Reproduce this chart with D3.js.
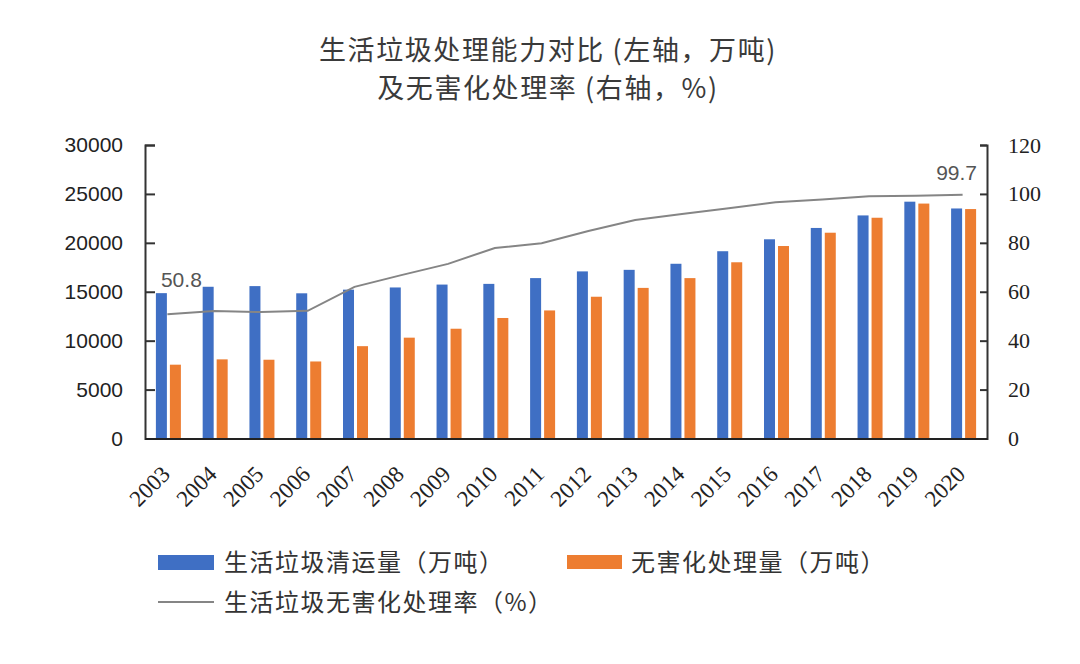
<!DOCTYPE html>
<html><head><meta charset="utf-8">
<script src="https://cdn.jsdelivr.net/npm/d3@7"></script>
<style>body{margin:0;background:#fff}svg{display:block}</style>
</head><body><svg id="c" width="1080" height="664"></svg>
<script>
const years = ["2003","2004","2005","2006","2007","2008","2009","2010","2011","2012","2013","2014","2015","2016","2017","2018","2019","2020"];
const collected = [14857,15509,15577,14841,15215,15438,15734,15805,16395,17081,17239,17860,19142,20362,21521,22802,24206,23512];
const treated = [7545,8089,8051,7873,9438,10307,11220,12318,13090,14490,15394,16394,18013,19674,21034,22565,24013,23452];
const rate = [50.8,52.1,51.7,52.2,62.0,66.8,71.4,77.9,79.8,84.8,89.3,91.8,94.1,96.6,97.7,99.0,99.2,99.7];
const leftTicks = [0,5000,10000,15000,20000,25000,30000];
const rightTicks = [0,20,40,60,80,100,120];
const seriesNames = ["生活垃圾清运量（万吨）","无害化处理量（万吨）","生活垃圾无害化处理率（%）"];
const titleLines = ["生活垃圾处理能力对比 (左轴，万吨)","及无害化处理率 (右轴，%)"];
const endLabels = ["50.8","99.7"];

const colors = ["#3f6fc4","#ed7d31","#858585"];
const cjk = "'Noto Sans CJK SC','Noto Sans',sans-serif";
const svg = d3.select("#c");
const L = 145, R = 987, T = 145, B = 438.5;

const x0 = d3.scaleBand().domain(years).range([L, R]);
const x1 = d3.scaleBand().domain(["a","b"]).range([0, 25]).paddingInner(0.214);
const yL = d3.scaleLinear().domain([0,30000]).range([B, T]);
const yR = d3.scaleLinear().domain([0,120]).range([B, T]);
const cx = d => x0(d) + x0.bandwidth()/2;

// title
svg.append("g").selectAll("text").data(titleLines).join("text")
  .attr("x", 548).attr("y", (d,i) => 60 + i*38)
  .attr("text-anchor","middle").attr("font-family", cjk)
  .attr("font-size", 27).attr("letter-spacing", 1.6).attr("fill","#3a3a3a").text(d => d);

// bars
const g = svg.append("g");
g.selectAll("rect.b").data(years).join("rect").attr("class","b")
  .attr("x", d => cx(d) - 12.5 + x1("a")).attr("width", x1.bandwidth())
  .attr("y", (d,i) => yL(collected[i])).attr("height", (d,i) => B - yL(collected[i]))
  .attr("fill", colors[0]);
g.selectAll("rect.o").data(years).join("rect").attr("class","o")
  .attr("x", d => cx(d) - 12.5 + x1("b")).attr("width", x1.bandwidth())
  .attr("y", (d,i) => yL(treated[i])).attr("height", (d,i) => B - yL(treated[i]))
  .attr("fill", colors[1]);

// line
const line = d3.line().x((d,i) => cx(years[i]) - 1).y(d => yR(d));
svg.append("path").datum(rate).attr("d", line).attr("fill","none")
  .attr("stroke", colors[2]).attr("stroke-width", 2);

// end labels
svg.append("text").attr("x", cx(years[0]) + 13).attr("y", yR(rate[0]) - 27)
  .attr("text-anchor","middle").attr("font-family","'Liberation Sans',sans-serif")
  .attr("font-size", 21).attr("fill","#555").text(endLabels[0]);
svg.append("text").attr("x", cx(years[years.length-1]) - 7).attr("y", yR(rate[rate.length-1]) - 15)
  .attr("text-anchor","middle").attr("font-family","'Liberation Sans',sans-serif")
  .attr("font-size", 21).attr("fill","#555").text(endLabels[1]);

// axes
const axL = svg.append("g").attr("transform", `translate(${L},0)`)
  .call(d3.axisRight(yL).tickValues(leftTicks).tickSize(10).tickFormat(d3.format("d")));
axL.selectAll("text").attr("x", -22).attr("text-anchor","end")
  .attr("font-family","'Liberation Sans',sans-serif").attr("font-size", 21).attr("fill","#222");
const axR = svg.append("g").attr("transform", `translate(${R},0)`)
  .call(d3.axisLeft(yR).tickValues(rightTicks).tickSize(7).tickFormat(d3.format("d")));
axR.selectAll("text").attr("x", 21).attr("text-anchor","start")
  .attr("font-family","'Liberation Serif',serif").attr("font-size", 22).attr("fill","#222");
[axL, axR].forEach(a => {
  a.select(".domain").attr("stroke","#333").attr("stroke-width",2);
  a.selectAll(".tick line").attr("stroke","#333").attr("stroke-width",2);
});
const axB = svg.append("g").attr("transform", `translate(0,${B})`)
  .call(d3.axisBottom(x0).tickSize(0).tickSizeOuter(0));
axB.select(".domain").attr("stroke","#222").attr("stroke-width",2.2);
axB.selectAll("text").attr("transform", null)
  .attr("y", 0).attr("dy", 0)
  .attr("font-family","'Liberation Serif',serif").attr("font-size", 23).attr("fill","#222")
  .attr("text-anchor","end");
axB.selectAll(".tick text").attr("transform", "translate(3,37) rotate(-45)");

// legend
const lg = svg.append("g").attr("font-family", cjk).attr("font-size", 24).attr("fill","#333");
lg.append("rect").attr("x",158).attr("y",555).attr("width",56).attr("height",15).attr("fill",colors[0]);
lg.append("text").attr("x",224).attr("y",571).attr("letter-spacing",1.5).text(seriesNames[0]);
lg.append("rect").attr("x",567).attr("y",555).attr("width",55).attr("height",14).attr("fill",colors[1]);
lg.append("text").attr("x",631).attr("y",571).attr("letter-spacing",1.5).text(seriesNames[1]);
lg.append("line").attr("x1",158).attr("x2",214).attr("y1",602).attr("y2",602).attr("stroke",colors[2]).attr("stroke-width",2);
lg.append("text").attr("x",224).attr("y",611).attr("letter-spacing",1.5).text(seriesNames[2]);
</script></body></html>
